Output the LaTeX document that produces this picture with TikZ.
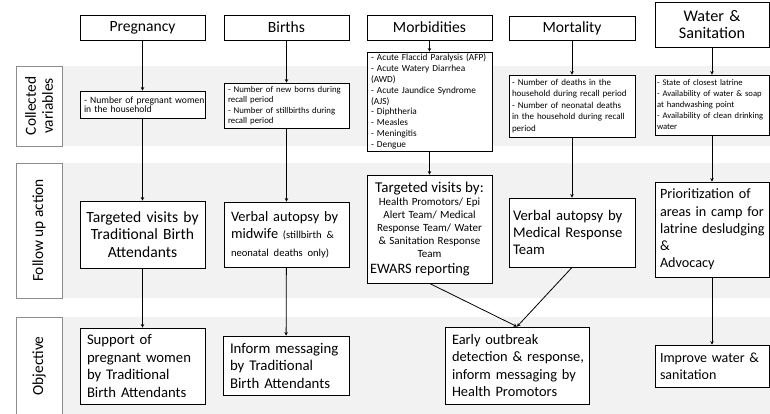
\documentclass[tikz,border=0pt]{standalone}
\usepackage{fontspec}
\setmainfont{Carlito}
\usetikzlibrary{arrows.meta}
\newcommand\fsz[2]{\fontsize{#1}{#2}\selectfont}
\definecolor{band}{HTML}{F2F2F2}
\definecolor{lblline}{HTML}{8C8C8C}
\begin{document}
\begin{tikzpicture}[x=1pt,y=-1pt,
  box/.style={draw=black,fill=white,line width=0.8pt,inner xsep=4pt,inner ysep=2pt},
  lft/.style={execute at begin node={\rightskip=0pt minus 40pt\relax\hyphenpenalty=10000\relax}},
  ctr/.style={align=center},
  lbl/.style={draw=lblline,fill=white,line width=0.8pt,rotate=90,align=center,font={\fsz{15.4}{17}},inner sep=0pt},
  arr/.style={line width=0.8pt,-{Stealth[length=3.5pt,width=3.5pt]}}]
\useasboundingbox (0,0) rectangle (770,413);
\fill[white] (0,0) rectangle (770,413);
% bands
\fill[band] (62,66) rectangle (770,146);
\fill[band] (62,163) rectangle (770,298);
\fill[band] (62,317) rectangle (770,415);
% row labels
\node[lbl,minimum width=80,minimum height=46] (lcv) at (39,106) {Collected\\variables};
\node[lbl,minimum width=135,minimum height=46] (lfa) at (39,230.5) {Follow up action};
\node[lbl,minimum width=98,minimum height=46] (lob) at (39,366) {Objective};
% headers
\node[box,ctr,text width=117pt,minimum height=25,font={\fsz{15.6}{17}}] (ph) at (142.5,27.5) {Pregnancy};
\node[box,ctr,text width=117pt,minimum height=25,font={\fsz{15.6}{17}}] (bh) at (286.5,27.5) {Births};
\node[box,ctr,text width=117pt,minimum height=25,font={\fsz{15.6}{17}}] (dh) at (429.5,27.5) {Morbidities};
\node[box,ctr,text width=118pt,minimum height=24,font={\fsz{15.6}{17}}] (mh) at (572,28) {Mortality};
\node[box,ctr,text width=106pt,minimum height=45,font={\fsz{16.2}{17.4}}] (wh) at (712,24.5) {Water \&\\Sanitation};
% collected variables
\node[box,lft,text width=117pt,minimum height=27,inner xsep=4pt,font={\fsz{9.6}{9}}] (pc) at (142.5,104.5) {- Number of pregnant women\\in the household};
\node[box,lft,text width=117pt,minimum height=45,font={\fsz{8.8}{10.5}}] (bc) at (286.5,105.5) {- Number of new borns during\\recall period\\- Number of stillbirths during\\recall period};
\node[box,lft,text width=117pt,minimum height=99,font={\fsz{9.3}{10.8}}] (dc) at (429.5,101.5) {- Acute Flaccid Paralysis (AFP)\\- Acute Watery Diarrhea\\(AWD)\\- Acute Jaundice Syndrome\\(AJS)\\- Diphtheria\\- Measles\\- Meningitis\\- Dengue};
\node[box,lft,text width=120pt,inner xsep=3pt,minimum height=62,font={\fsz{9}{11.5}}] (mc) at (572,106) {- Number of deaths in the\\household during recall period\\- Number of neonatal deaths\\in the household during recall\\period};
\node[box,lft,text width=110pt,inner xsep=2pt,minimum height=60,font={\fsz{8.6}{11}}] (wc) at (712,105) {- State of closest latrine\\- Availability of water \& soap\\at handwashing point\\- Availability of clean drinking\\water};
% follow up
\node[box,ctr,text width=119pt,inner xsep=3pt,minimum height=67,font={\fsz{15.6}{17.4}}] (pf) at (142.5,234.5) {Targeted visits by\\Traditional Birth\\Attendants};
\node[box,lft,text width=111pt,inner xsep=7pt,minimum height=65,font={\fsz{14.4}{17.4}}] (bf) at (286.5,234.5) {Verbal autopsy by\\midwife {\fsz{10.6}{17.4}(stillbirth \&}\\{\fsz{10.6}{17.4}neonatal deaths only)}};
\node[box,text width=119pt,inner xsep=3pt,minimum height=108,inner ysep=1pt] (df) at (429.5,229) {\centering\fsz{15}{16}Targeted visits by:\par
\fsz{11}{13}Health Promotors/ Epi\\Alert Team/ Medical\\Response Team/ Water\\\& Sanitation Response\\Team\par
\raggedright\fsz{14.4}{15.5}EWARS reporting\par};
\node[box,lft,text width=118pt,inner xsep=4pt,minimum height=69,font={\fsz{14.7}{17.4}}] (mf) at (572,232.5) {Verbal autopsy by\\Medical Response\\Team};
\node[box,lft,text width=104pt,inner xsep=5pt,minimum height=95,font={\fsz{14.2}{17.2}}] (wf) at (712,229.5) {Prioritization of\\areas in camp for\\latrine desludging\\\&\\Advocacy};
% objectives
\node[box,lft,text width=111pt,inner xsep=7pt,minimum height=76,font={\fsz{14.7}{17.5}}] (po) at (142.5,366) {Support of\\pregnant women\\by Traditional\\Birth Attendants};
\node[box,lft,text width=112pt,inner xsep=7pt,minimum height=59,font={\fsz{14.8}{17.5}}] (bo) at (286,365.5) {Inform messaging\\by Traditional\\Birth Attendants};
\node[box,lft,text width=130pt,inner xsep=7pt,minimum height=77,font={\fsz{14.4}{17.3}}] (do) at (517,365.5) {Early outbreak\\detection \& response,\\inform messaging by\\Health Promotors};
\node[box,lft,text width=104pt,inner xsep=5pt,minimum height=42,font={\fsz{14}{17.3}}] (wo) at (712,366) {Improve water \&\\sanitation};
% arrows
\draw[arr] (ph) -- (pc);
\draw[arr] (pc) -- (pf);
\draw[arr] (pf) -- (po);
\draw[arr] (bh) -- (bc);
\draw[arr] (bc) -- (bf);
\draw[arr] (bf) -- (bo);
\draw[arr] (dh) -- (dc);
\draw[arr] (dc) -- (df);
\draw[arr] (df.south) -- (do.north);
\draw[arr] (mh) -- (mc);
\draw[arr] (mc) -- (mf);
\draw[arr] (mf.south) -- (do.north);
\draw[arr] (wh) -- (wc);
\draw[arr] (wc) -- (wf);
\draw[arr] (wf) -- (wo);
\end{tikzpicture}
\end{document}
